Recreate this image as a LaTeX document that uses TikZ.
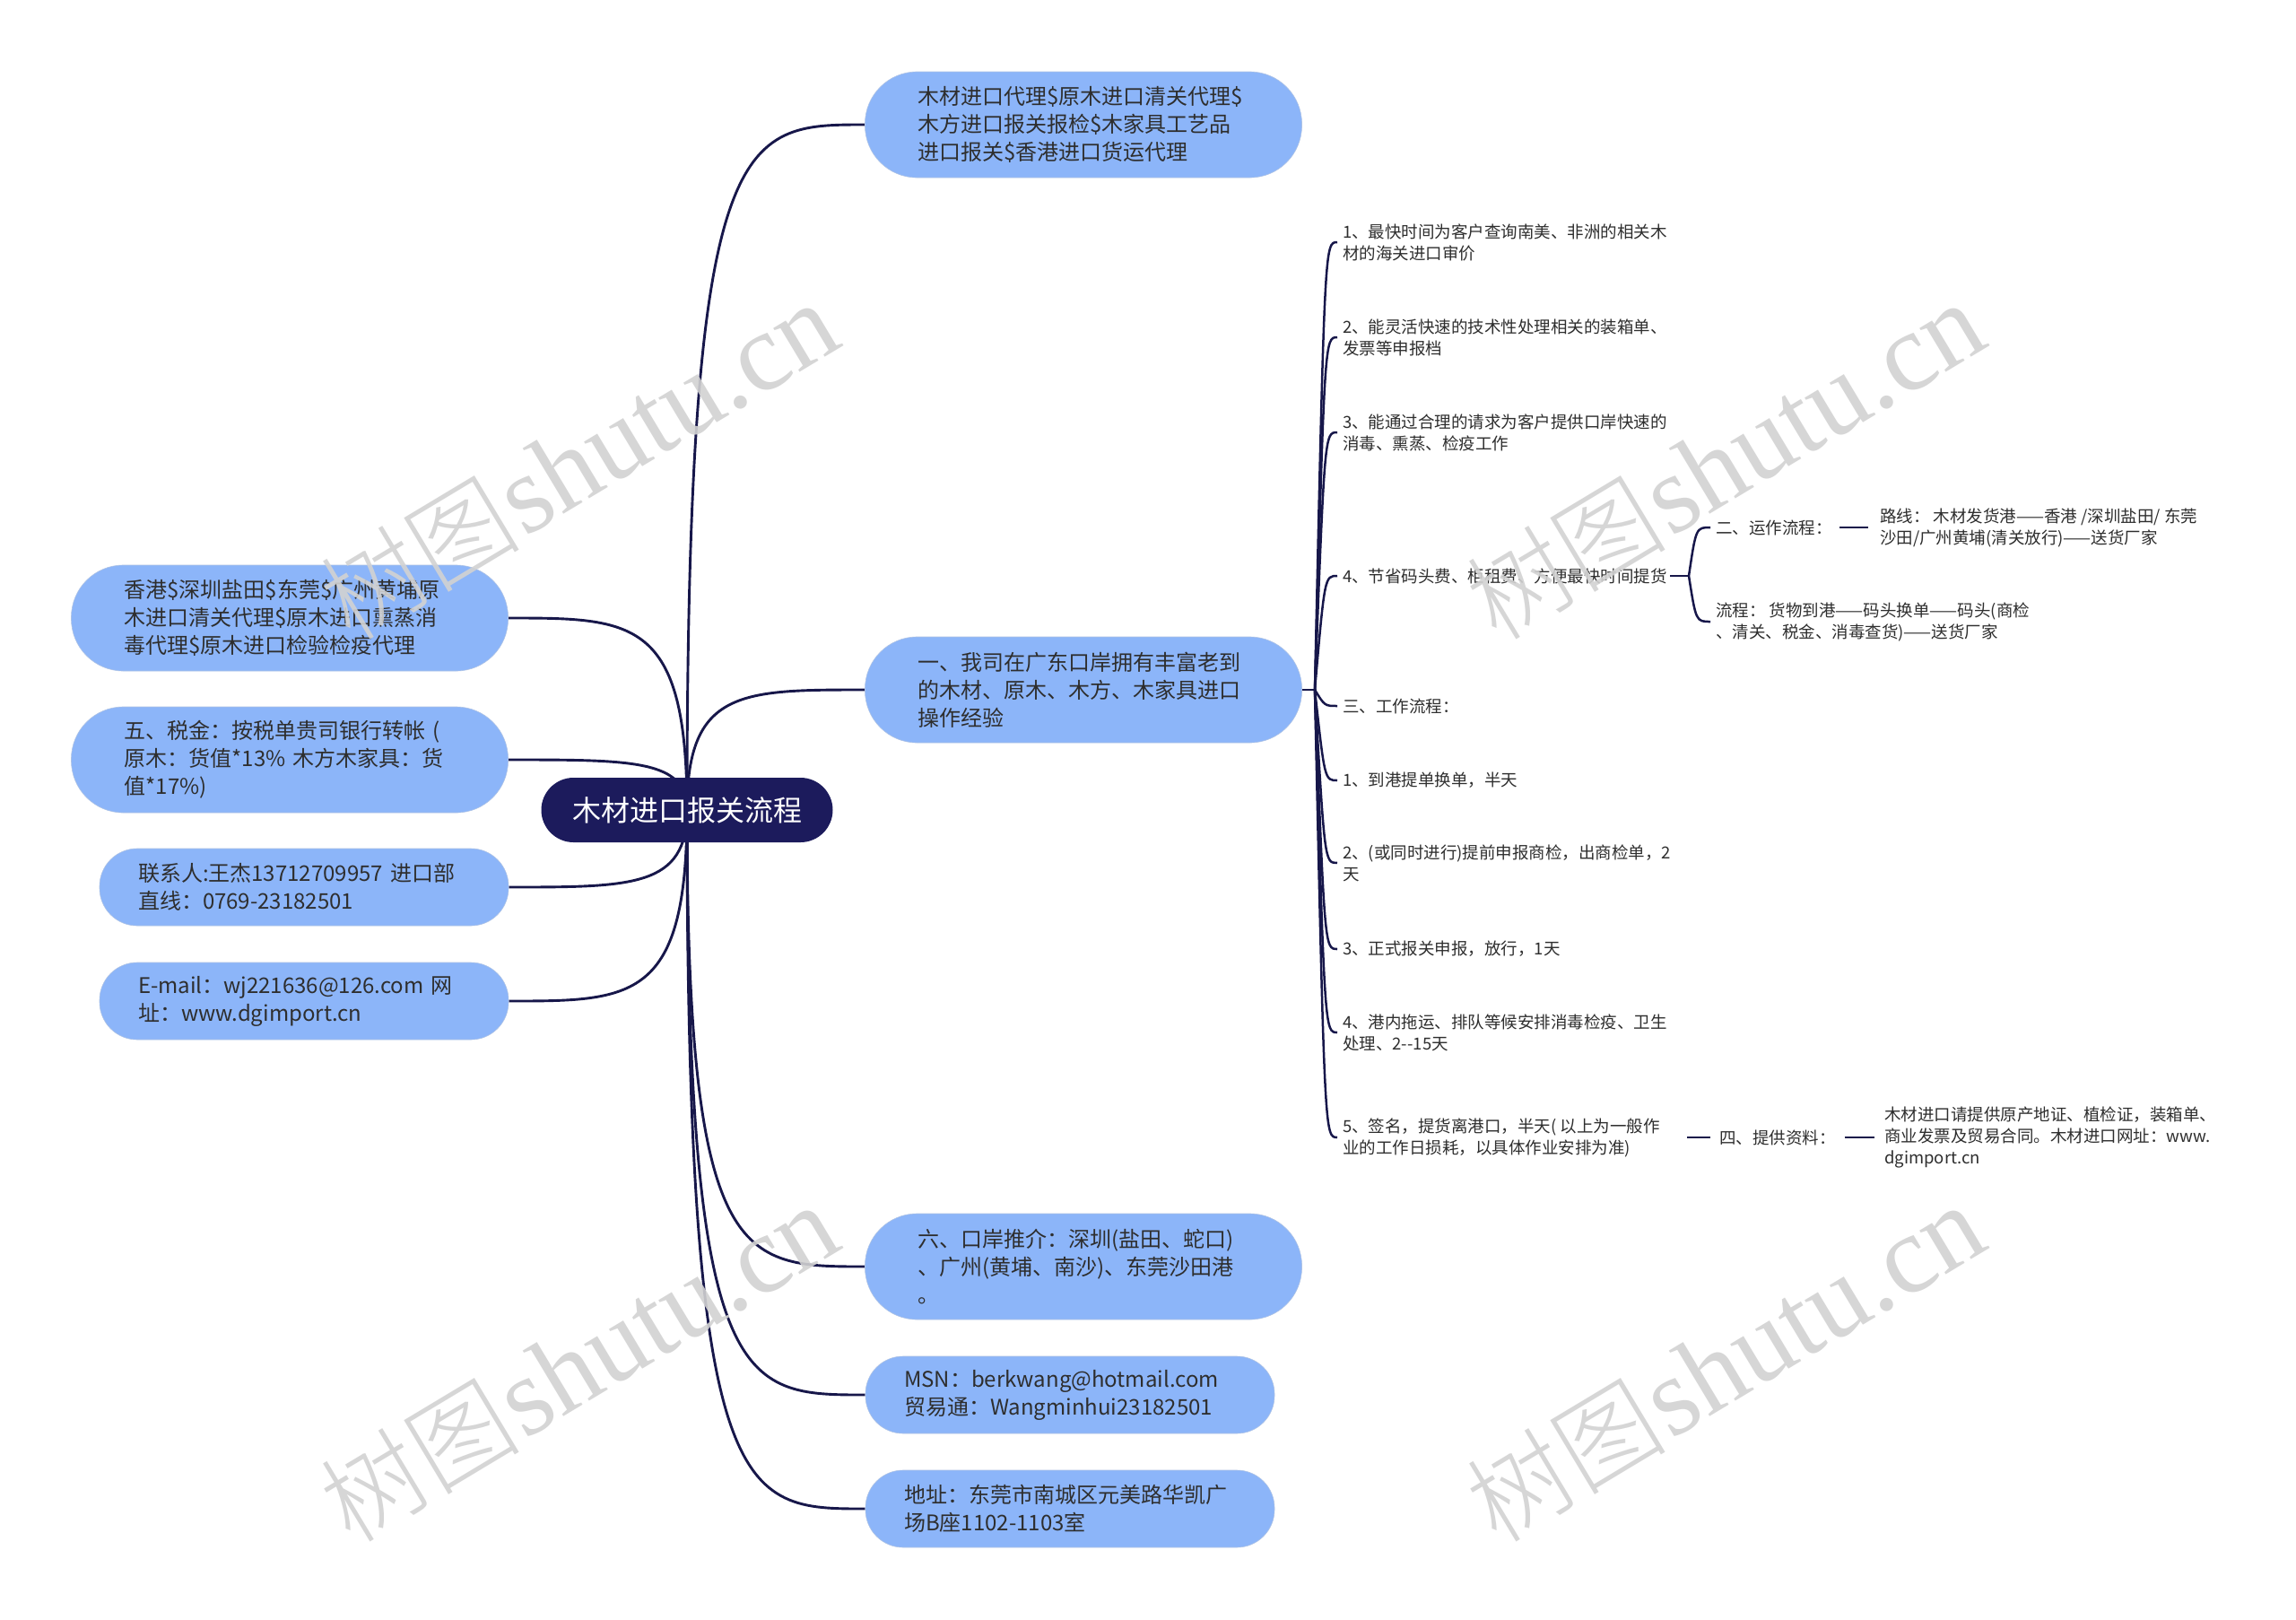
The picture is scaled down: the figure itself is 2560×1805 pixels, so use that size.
\documentclass[tikz,border=0pt]{standalone}
\usepackage{fontspec}
\usetikzlibrary{backgrounds}
\setmainfont{Noto Sans CJK SC}
\newfontfamily\wmserif{Liberation Serif}
\newfontfamily\wmcjk{Noto Sans CJK SC Light}
\definecolor{topicblue}{HTML}{8CB5F9}
\definecolor{rootnavy}{HTML}{1C1B5C}
\definecolor{linenavy}{HTML}{17174A}
\definecolor{txt}{HTML}{2E2E2E}
\definecolor{wm}{HTML}{D2D2D2}
\begin{document}
\begin{tikzpicture}[x=1pt,y=-1pt,
  conn/.style={draw=linenavy,line width=2.9pt},
  subconn/.style={draw=linenavy,line width=2.5pt},
  bigtopic/.style={fill=topicblue,draw=topicblue!85!black!60,line width=0.6pt,
     rounded corners=58pt,minimum height=118pt,inner xsep=59pt,inner ysep=0pt,
     text width=369pt,align=left,text=txt,font=\fontsize{24pt}{31pt}\selectfont},
  midtopic/.style={fill=topicblue,draw=topicblue!85!black!60,line width=0.6pt,
     rounded corners=42pt,minimum height=86pt,inner xsep=43pt,inner ysep=0pt,
     text width=370pt,align=left,text=txt,font=\fontsize{24pt}{31pt}\selectfont},
  rootbox/.style={fill=rootnavy,rounded corners=36pt,minimum width=325pt,minimum height=72pt,
     text=white,font=\fontsize{32pt}{38pt}\selectfont,inner sep=0pt},
  item/.style={anchor=west,inner sep=0pt,align=left,text=txt,
     font=\fontsize{18.5pt}{24pt}\selectfont},
  wmark/.style={text=wm,opacity=0.9,rotate=31,inner sep=0pt}
]
\useasboundingbox (0,0) rectangle (2560,1805);

% ---------- nodes ----------
\node[rootbox] (root) at (766,903) {木材进口报关流程};

\node[bigtopic] (A) at (1208,139) {木材进口代理\$原木进口清关代理\$\\木方进口报关报检\$木家具工艺品\\进口报关\$香港进口货运代理};
\node[bigtopic] (B) at (1208,769) {一、我司在广东口岸拥有丰富老到\\的木材、原木、木方、木家具进口\\操作经验};
\node[bigtopic] (C) at (1208,1412) {六、口岸推介：深圳(盐田、蛇口)\\、广州(黄埔、南沙)、东莞沙田港\\。};
\node[midtopic] (D) at (1193,1555) {MSN：berkwang@hotmail.com\\贸易通：Wangminhui23182501};
\node[midtopic] (E) at (1193,1682) {地址：东莞市南城区元美路华凯广\\场B座1102-1103室};

\node[bigtopic] (F) at (323,689) {香港\$深圳盐田\$东莞\$广州黄埔原\\木进口清关代理\$原木进口熏蒸消\\毒代理\$原木进口检验检疫代理};
\node[bigtopic] (G) at (323,847) {五、税金：按税单贵司银行转帐 (\\原木：货值*13\% 木方木家具：货\\值*17\%)};
\node[midtopic] (H) at (339,989) {联系人:王杰13712709957 进口部\\直线：0769-23182501};
\node[midtopic] (I) at (339,1116) {E-mail：wj221636@126.com 网\\址：www.dgimport.cn};

% right items
\node[item] (r1) at (1497,270) {1、最快时间为客户查询南美、非洲的相关木\\材的海关进口审价};
\node[item] (r2) at (1497,376) {2、能灵活快速的技术性处理相关的装箱单、\\发票等申报档};
\node[item] (r3) at (1497,482) {3、能通过合理的请求为客户提供口岸快速的\\消毒、熏蒸、检疫工作};
\node[item] (r4) at (1497,642) {4、节省码头费、柜租费、方便最快时间提货};
\node[item] (r5) at (1497,787) {三、工作流程：};
\node[item] (r6) at (1497,870) {1、到港提单换单，半天};
\node[item] (r7) at (1497,962) {2、(或同时进行)提前申报商检，出商检单，2\\天};
\node[item] (r8) at (1497,1058) {3、正式报关申报，放行，1天};
\node[item] (r9) at (1497,1151) {4、港内拖运、排队等候安排消毒检疫、卫生\\处理、2-{}-15天};
\node[item] (r10) at (1497,1268) {5、签名，提货离港口，半天( 以上为一般作\\业的工作日损耗，以具体作业安排为准)};

\node[item] (s1) at (1913,588) {二、运作流程：};
\node[item] (s2) at (1913,693) {流程： 货物到港——码头换单——码头(商检\\、清关、税金、消毒查货)——送货厂家};
\node[item] (s3) at (2096,588) {路线： 木材发货港——香港 /深圳盐田/ 东莞\\沙田/广州黄埔(清关放行)——送货厂家};
\node[item] (s4) at (1917,1268) {四、提供资料：};
\node[item] (s5) at (2101,1268) {木材进口请提供原产地证、植检证，装箱单、\\商业发票及贸易合同。木材进口网址：www.\\dgimport.cn};

\coordinate (bj) at (1466,769);
\coordinate (c4) at (1883,642);

% ---------- connectors (behind nodes) ----------
\begin{scope}[on background layer]
\fill[white] (0,0) rectangle (2560,1805);
\foreach \n/\y in {A/139,B/769,C/1412,D/1555,E/1682}
  \draw[conn] (root.center) .. controls (766,\y) and (826,\y) .. (\n.west);
\foreach \n/\y in {F/689,G/847,H/989,I/1116}
  \draw[conn] (root.center) .. controls (766,\y) and (706,\y) .. (\n.east);

\draw[subconn] (B.east) -- (bj);
\foreach \n/\y in {r1/270,r2/376,r3/482,r4/642,r5/787,r6/870,r7/962,r8/1058,r9/1151,r10/1268}
  \draw[subconn] (bj) .. controls (1477,\y) and (1477,\y) .. ([xshift=-6pt]\n.west);

\draw[subconn] ([xshift=3pt]r4.east) -- (c4);
\foreach \n/\y in {s1/588,s2/693}
  \draw[subconn] (c4) .. controls (1891,\y) and (1891,\y) .. ([xshift=-6pt]\n.west);
\draw[subconn] ([xshift=8pt]s1.east) -- ([xshift=-13pt]s3.west);
\draw[subconn] ([xshift=-36pt]s4.west) -- ([xshift=-10pt]s4.west);
\draw[subconn] ([xshift=10pt]s4.east) -- ([xshift=-11pt]s5.west);
\end{scope}

% ---------- watermarks ----------
\foreach \i/\x/\y in {1/645/514,2/1923/514,3/645/1520,4/1923/1520}
  \node[wmark] (wm\i) at (\x,\y) {{\wmcjk\fontsize{112pt}{120pt}\selectfont 树图} {\wmserif\fontsize{124pt}{130pt}\selectfont shutu.cn}};
\end{tikzpicture}
\end{document}
